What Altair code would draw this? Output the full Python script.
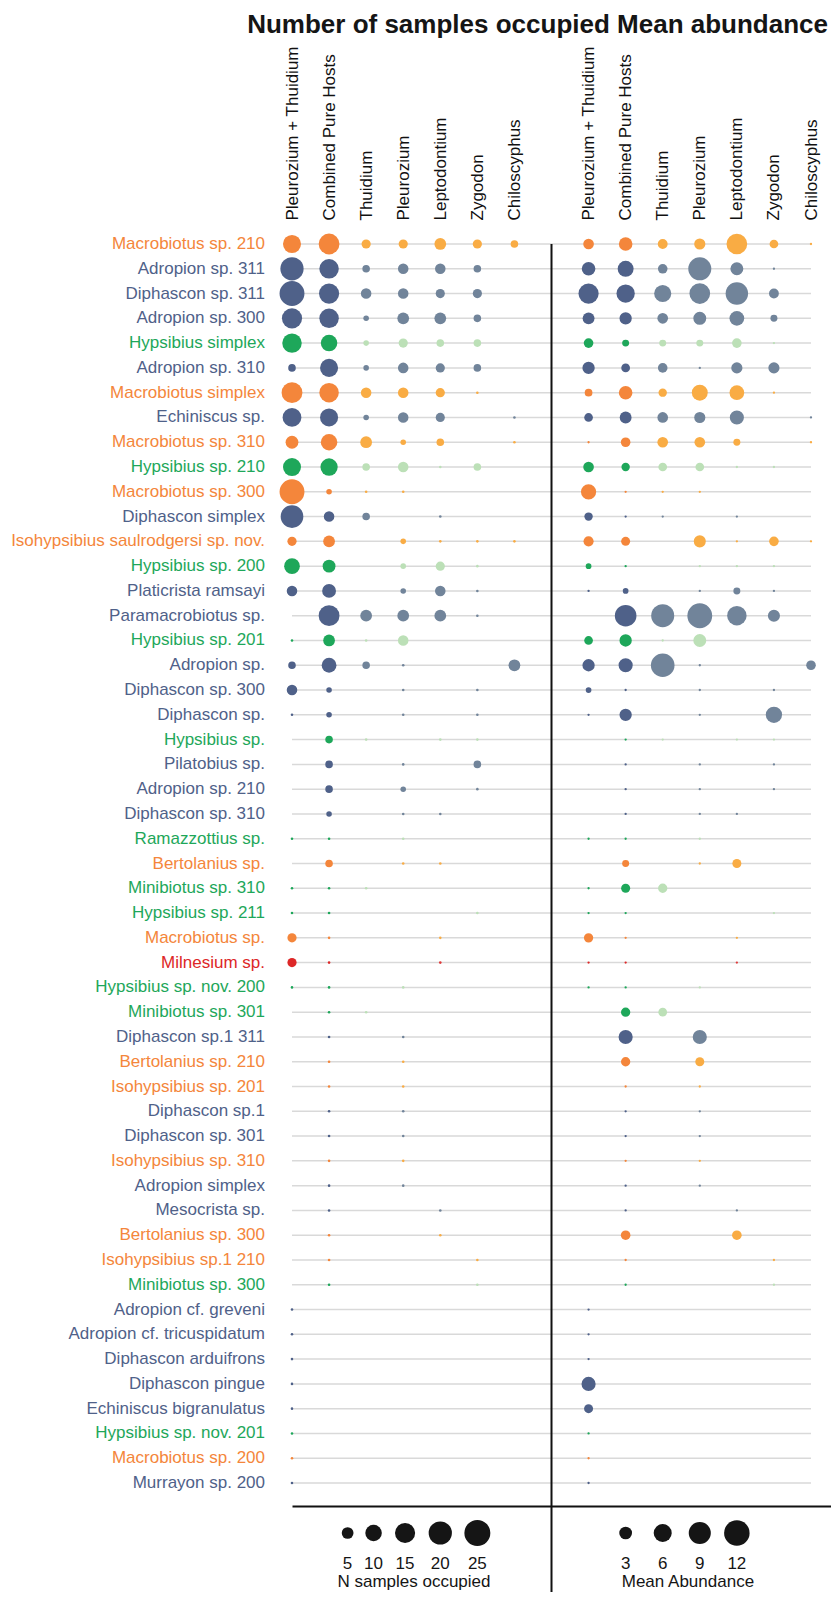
import json
import altair as alt
import pandas as pd

# ---------------- data ----------------
SPECIES = [
    "Macrobiotus sp. 210", "Adropion sp. 311", "Diphascon sp. 311", "Adropion sp. 300",
    "Hypsibius simplex", "Adropion sp. 310", "Macrobiotus simplex", "Echiniscus sp.",
    "Macrobiotus sp. 310", "Hypsibius sp. 210", "Macrobiotus sp. 300", "Diphascon simplex",
    "Isohypsibius saulrodgersi sp. nov.", "Hypsibius sp. 200", "Platicrista ramsayi",
    "Paramacrobiotus sp.", "Hypsibius sp. 201", "Adropion sp.", "Diphascon sp. 300",
    "Diphascon sp.", "Hypsibius sp.", "Pilatobius sp.", "Adropion sp. 210", "Diphascon sp. 310",
    "Ramazzottius sp.", "Bertolanius sp.", "Minibiotus sp. 310", "Hypsibius sp. 211",
    "Macrobiotus sp.", "Milnesium sp.", "Hypsibius sp. nov. 200", "Minibiotus sp. 301",
    "Diphascon sp.1 311", "Bertolanius sp. 210", "Isohypsibius sp. 201", "Diphascon sp.1",
    "Diphascon sp. 301", "Isohypsibius sp. 310", "Adropion simplex", "Mesocrista sp.",
    "Bertolanius sp. 300", "Isohypsibius sp.1 210", "Minibiotus sp. 300", "Adropion cf. greveni",
    "Adropion cf. tricuspidatum", "Diphascon arduifrons", "Diphascon pingue",
    "Echiniscus bigranulatus", "Hypsibius sp. nov. 201", "Macrobiotus sp. 200", "Murrayon sp. 200",
]
# O = orange, B = blue, G = green, R = red
GROUP = list("OBBBGBOBOG" "OBOGBBGBBB" "GBBBGOGGOR" "GGBOOBBOBB" "OOGBBBBBGOB")

HOSTS = ["Pleurozium + Thuidium", "Combined Pure Hosts", "Thuidium", "Pleurozium",
         "Leptodontium", "Zygodon", "Chiloscyphus"]

_ = None
# Number of samples occupied (one list per host column)
N_PT   = [12, 20, 23, 15, 14, 2, 16, 13, 6, 12, 23, 19, 3, 9, 4, _, 0.1, 2, 4, 0.1, _, _, _, _, 0.1, _, 0.1, 0.1, 3, 3, 0.1, _, _, _, _, _, _, _, _, _, _, _, _, 0.1, 0.1, 0.1, 0.1, 0.1, 0.1, 0.1, 0.1]
N_COMB = [16, 14, 15, 14, 10, 12, 14, 12, 10, 11, 1, 4, 5, 6, 7, 16, 5, 8, 1, 1, 2, 2, 2, 1, 0.1, 2, 0.1, 0.1, 0.1, 0.1, 0.1, 0.1, 0.1, 0.1, 0.1, 0.1, 0.1, 0.1, 0.1, 0.1, 0.1, 0.1, 0.1, _, _, _, _, _, _, _, _]
N_THU  = [3, 2, 4, 1, 1, 1, 4, 1, 5, 2, 0.1, 2, _, _, _, 5, 0.1, 2, _, _, 0.1, _, _, _, _, _, 0.1, _, _, _, _, 0.1, _, _, _, _, _, _, _, _, _, _, _, _, _, _, _, _, _, _, _]
N_PLE  = [3, 4, 4, 5, 3, 4, 4, 4, 1, 4, 0.1, _, 1, 1, 1, 5, 4, 0.1, 0.1, 0.1, _, 0.1, 1, 0.1, 0.1, 0.1, _, _, _, _, 0.1, _, 0.1, 0.1, 0.1, 0.1, 0.1, 0.1, 0.1, _, _, _, _, _, _, _, _, _, _, _, _]
N_LEP  = [5, 4, 3, 5, 2, 3, 3, 3, 2, 0.1, _, 0.1, 0.1, 3, 4, 5, _, _, _, _, 0.1, _, _, 0.1, _, 0.1, _, _, 0.1, 0.1, _, _, _, _, _, _, _, _, _, 0.1, 0.1, _, _, _, _, _, _, _, _, _, _]
N_ZYG  = [3, 2, 3, 2, 2, 2, 0.1, _, _, 2, _, _, 0.1, 0.1, 0.1, 0.1, _, _, 0.1, 0.1, 0.1, 2, 0.1, _, _, _, _, 0.1, _, _, _, _, _, _, _, _, _, _, _, _, _, 0.1, 0.1, _, _, _, _, _, _, _, _]
N_CHI  = [2, _, _, _, _, _, _, 0.1, 0.1, _, _, _, 0.1, _, _, _, _, 5, _, _, _, _, _, _, _, _, _, _, _, _, _, _, _, _, _, _, _, _, _, _, _, _, _, _, _, _, _, _, _, _, _]

# Mean abundance (one list per host column)
M_PT   = [2.1, 3.4, 7.5, 2.6, 1.7, 2.8, 1.1, 1.4, 0.1, 2.1, 4.3, 1.3, 1.9, 0.6, 0.1, _, 1.4, 2.8, 0.6, 0.1, _, _, _, _, 0.1, _, 0.1, 0.1, 1.6, 0.1, 0.1, _, _, _, _, _, _, _, _, _, _, _, _, 0.1, 0.1, 0.1, 3.7, 1.5, 0.1, 0.1, 0.1]
M_COMB = [3.4, 4.7, 6.2, 2.8, 0.9, 1.4, 3.4, 2.6, 1.7, 1.3, 0.1, 0.1, 1.5, 0.1, 0.6, 8.6, 2.8, 3.7, 0.1, 2.8, 0.1, 0.1, 0.1, 0.1, 0.1, 0.9, 1.5, 0.1, 0.1, 0.1, 0.1, 1.6, 3.7, 1.6, 0.1, 0.1, 0.1, 0.1, 0.1, 0.1, 1.7, 0.1, 0.1, _, _, _, _, _, _, _, _]
M_THU  = [1.8, 1.7, 5.4, 2.1, 0.9, 1.7, 1.3, 2.1, 2.1, 1.4, 0.1, 0.1, _, _, _, 9.8, 0.1, 10.3, _, _, 0.1, _, _, _, _, _, 1.6, _, _, _, _, 1.4, _, _, _, _, _, _, _, _, _, _, _, _, _, _, _, _, _, _, _]
M_PLE  = [2.3, 9.8, 7.9, 3.1, 0.9, 0.1, 4.7, 2.3, 2.1, 1.4, 0.1, _, 2.7, 0.1, 0.1, 11.4, 3.1, 0.1, 0.1, 0.1, _, 0.1, 0.1, 0.1, 0.1, 0.1, _, _, _, _, 0.1, _, 3.7, 1.5, 0.1, 0.1, 0.1, 0.1, 0.1, _, _, _, _, _, _, _, _, _, _, _, _]
M_LEP  = [7.9, 3.1, 9.3, 4.0, 1.7, 2.3, 4.0, 3.7, 0.9, 0.1, _, 0.1, 0.1, 0.1, 0.9, 7.0, _, _, _, _, 0.1, _, _, 0.1, _, 1.5, _, _, 0.1, 0.1, _, _, _, _, _, _, _, _, _, 0.1, 1.7, _, _, _, _, _, _, _, _, _, _]
M_ZYG  = [1.4, 0.1, 1.8, 0.9, 0.1, 2.3, 0.1, _, _, 0.1, _, _, 1.7, 0.1, 0.1, 2.7, _, _, 0.1, 4.9, 0.1, 0.1, 0.1, _, _, _, _, 0.1, _, _, _, _, _, _, _, _, _, _, _, _, _, 0.1, 0.1, _, _, _, _, _, _, _, _]
M_CHI  = [0.1, _, _, _, _, _, _, 0.1, 0.1, _, _, _, 0.1, _, _, _, _, 1.7, _, _, _, _, _, _, _, _, _, _, _, _, _, _, _, _, _, _, _, _, _, _, _, _, _, _, _, _, _, _, _, _, _]

LEGEND_N = [5, 10, 15, 20, 25]
LEGEND_M = [3, 6, 9, 12]

# ---------------- styling / layout ----------------
REGULAR = "Liberation Sans, Arial, sans-serif"
KEY_DOMAIN = ["Od", "Ol", "Bd", "Bl", "Gd", "Gl", "Rd", "Rl"]
KEY_RANGE = ["#F4863B", "#F9AC44", "#4F6189", "#71849A", "#1EA75A", "#BCE0B7", "#DD2727", "#E03A3A"]

W, H = 539, 1285
GAP = 8                      # right panel starts two steps after the left one
XMAX = 14 * W / 519
LEG_N_POS = [1.5, 2.2, 3.05, 4.0, 5.0]
LEG_M_POS = [9, 10, 11, 12]

# ---------------- tables ----------------
rows = []
for panel, cols, off in (("N", [N_PT, N_COMB, N_THU, N_PLE, N_LEP, N_ZYG, N_CHI], 0),
                         ("M", [M_PT, M_COMB, M_THU, M_PLE, M_LEP, M_ZYG, M_CHI], GAP)):
    for j, col in enumerate(cols):
        for i, v in enumerate(col):
            if v is None:
                continue
            rows.append(dict(species=SPECIES[i], host=HOSTS[j], panel=panel, pos=j + off,
                             value=v, key=GROUP[i] + ("d" if j < 2 else "l")))
df = pd.DataFrame(rows)
dfN = df[df.panel == "N"]
dfM = df[df.panel == "M"]
sp_df = pd.DataFrame({"species": SPECIES, "key": [g + "d" for g in GROUP]})
legN = pd.DataFrame({"v": LEGEND_N, "pos": LEG_N_POS})
legM = pd.DataFrame({"v": LEGEND_M, "pos": LEG_M_POS})
one = pd.DataFrame({"a": [0]})

header_arr = HOSTS + [""] + HOSTS
header_expr = "%s[datum.value]" % json.dumps(header_arr)

xsc = alt.Scale(domain=[0, XMAX], nice=False, zero=False)
ysc = alt.Scale(type="point", domain=SPECIES, padding=0.928)
sizeN = alt.Scale(domain=[0, 25], range=[4, 674])
sizeM = alt.Scale(domain=[0, 12], range=[0, 650])
colsc = alt.Scale(domain=KEY_DOMAIN, range=KEY_RANGE)

top_axis = alt.Axis(orient="top", values=list(range(0, 7)) + list(range(GAP, GAP + 7)),
                    labelExpr=header_expr, labelAngle=270, labelAlign="left",
                    labelBaseline="middle", labelFont=REGULAR, labelFontSize=17,
                    labelColor="#111111", labelPadding=1, ticks=False, domain=False,
                    grid=False, title=None, labelLimit=400, labelOverlap=False)
bottom_axis = alt.Axis(orient="bottom", labels=False, ticks=False, grid=False, title=None,
                       domain=True, domainColor="#111111", domainWidth=2)

grid = alt.Chart(sp_df).mark_rule(color="#D9D9D9", strokeWidth=1.5).encode(
    y=alt.Y("species:N", scale=ysc, axis=None),
    x=alt.XDatum(0, type="quantitative", scale=xsc, axis=top_axis),
    x2=alt.X2Datum(GAP + 6),
)

row_labels = alt.Chart(sp_df).mark_text(align="right", baseline="middle", font=REGULAR,
                                        fontSize=17).encode(
    y=alt.Y("species:N", scale=ysc, axis=None),
    x=alt.value(-27),
    text="species:N",
    color=alt.Color("key:N", scale=colsc, legend=None),
)

ptsN = alt.Chart(dfN).mark_circle(opacity=1).encode(
    x=alt.X("pos:Q", scale=xsc, axis=bottom_axis),
    y=alt.Y("species:N", scale=ysc, axis=None),
    size=alt.Size("value:Q", scale=sizeN, legend=None),
    color=alt.Color("key:N", scale=colsc, legend=None),
    tooltip=["species", "host", "value"],
)
ptsM = alt.Chart(dfM).mark_circle(opacity=1).encode(
    x=alt.X("pos:Q", scale=xsc, axis=None),
    y=alt.Y("species:N", scale=ysc, axis=None),
    size=alt.Size("value:Q", scale=sizeM, legend=None),
    color=alt.Color("key:N", scale=colsc, legend=None),
    tooltip=["species", "host", "value"],
)

divider = alt.Chart(one).mark_rule(color="#111111", strokeWidth=2).encode(
    x=alt.XDatum((6 + GAP) / 2, type="quantitative", scale=xsc, axis=None),
    y=alt.YDatum(SPECIES[0], type="nominal", scale=ysc, axis=None),
    y2=alt.value(H + 86),
)

legN_pts = alt.Chart(legN).mark_circle(opacity=1, color="#151515").encode(
    x=alt.X("pos:Q", scale=xsc, axis=None),
    y=alt.value(H + 27),
    size=alt.Size("v:Q", scale=sizeN, legend=None),
)
legM_pts = alt.Chart(legM).mark_circle(opacity=1, color="#151515").encode(
    x=alt.X("pos:Q", scale=xsc, axis=None),
    y=alt.value(H + 27),
    size=alt.Size("v:Q", scale=sizeM, legend=None),
)
legN_txt = alt.Chart(legN).mark_text(font=REGULAR, fontSize=17, color="#151515", baseline="middle").encode(
    x=alt.X("pos:Q", scale=xsc, axis=None), y=alt.value(H + 58), text="v:Q")
legM_txt = alt.Chart(legM).mark_text(font=REGULAR, fontSize=17, color="#151515", baseline="middle").encode(
    x=alt.X("pos:Q", scale=xsc, axis=None), y=alt.value(H + 58), text="v:Q")
legN_title = alt.Chart(one).mark_text(font=REGULAR, fontSize=17, color="#151515", baseline="middle").encode(
    x=alt.XDatum(3.29, type="quantitative", scale=xsc, axis=None), y=alt.value(H + 76),
    text=alt.value("N samples occupied"))
legM_title = alt.Chart(one).mark_text(font=REGULAR, fontSize=17, color="#151515", baseline="middle").encode(
    x=alt.XDatum(10.68, type="quantitative", scale=xsc, axis=None), y=alt.value(H + 76),
    text=alt.value("Mean Abundance"))

chart = alt.layer(
    grid, row_labels, ptsN, ptsM, divider, legN_pts, legM_pts, legN_txt, legM_txt,
    legN_title, legM_title
).resolve_scale(size="independent").resolve_axis(x="independent").properties(
    width=W, height=H,
    autosize=alt.AutoSizeParams(type="none"),
    padding={"left": 284, "top": 213, "right": 0, "bottom": 86},
    title=alt.TitleParams("Number of samples occupied Mean abundance", anchor="end", frame="group",
                          font=REGULAR, fontSize=26, fontWeight="bold", color="#151515", offset=8,
                          dx=-3),
).configure_view(stroke=None)

chart.save("out.html", embed_options={"renderer": "svg", "actions": False})
